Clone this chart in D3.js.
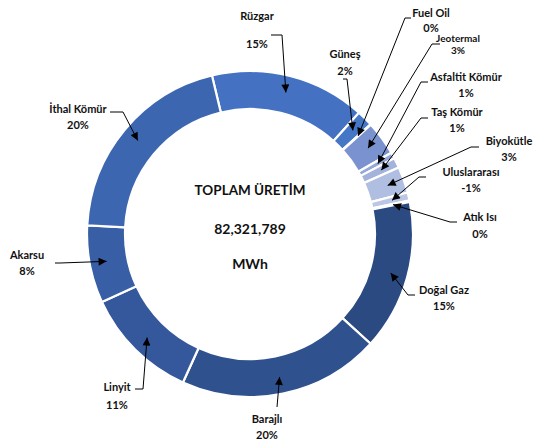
<!DOCTYPE html>
<html>
<head>
<meta charset="utf-8">
<script src="https://cdn.jsdelivr.net/npm/d3@7"></script>
<style>
  html, body { margin: 0; padding: 0; background: #fff; }
  svg { display: block; }
  text { font-family: Lato, "Open Sans", sans-serif; font-weight: 700; fill: #111; }
</style>
</head>
<body>
<svg id="chart" width="545" height="447"></svg>
<script>
// ---- data ----
const categories = ["Rüzgar", "Güneş", "Fuel Oil", "Jeotermal", "Asfaltit Kömür", "Taş Kömür",
  "Biyokütle", "Uluslararası", "Atık Isı", "Doğal Gaz", "Barajlı", "Linyit", "Akarsu", "İthal Kömür"];
const valuesMWh = [12677555, 1317149, 41161, 2798941, 493931, 823218,
  2140367, -658574, 123483, 12265947, 16464358, 9384684, 6338778, 16793643];
const totalTitle = "TOPLAM ÜRETİM";
const totalUnit = "MWh";

// ---- styles / layout (not data) ----
const colors = ["#4471c1", "#4676c6", "#5a84cc", "#7a93d0", "#94a8d8", "#a3b3dc",
  "#b0bee2", "#bcc7e6", "#c8d1ea", "#2b4a82", "#2f528f", "#34589b", "#385ea5", "#3d66b1"];
// label layout: [textX, nameY, pctY, leaderStartX, leaderY, elbowX, fontSize]
const labelLayout = [
  [257, 15, 43, 271, 35, 282, 11],
  [345, 53, 70, 343, 79, 347, 11],
  [431, 12, 27, 411, 18, 405, 11],
  [458, 38, 50, 440, 44, 432, 10],
  [466, 76, 92, 428, 82, 421, 11],
  [457, 111, 127, 428, 118, 421, 11],
  [509, 140, 156, 479, 147, 471, 11],
  [471, 171, 187, 426, 177, 419, 11],
  [480, 216, 233, 457, 222, 450, 11],
  [444, 289, 305, 415, 295, 408, 11],
  [267, 418, 434, 277, 407, 277, 11],
  [117, 386, 404, 135, 389, 143, 11],
  [27, 254, 270, 55, 263, 60, 11],
  [78, 108, 124, 110, 112, 123, 11]
];

const cx = 250, cy = 234, outerR = 163, innerR = 125, tipR = 146;
const startDeg = -13.5;

const svg = d3.select("#chart");
const defs = svg.append("defs");
defs.append("marker").attr("id", "arrow")
  .attr("viewBox", "0 0 10 10").attr("refX", 10).attr("refY", 5)
  .attr("markerWidth", 10).attr("markerHeight", 8).attr("markerUnits", "userSpaceOnUse")
  .attr("orient", "auto")
  .append("path").attr("d", "M0,0 L10,5 L0,10 Z").attr("fill", "#000");

const total = d3.sum(valuesMWh, v => Math.abs(v));
const data = categories.map((c, i) => ({ name: c, value: valuesMWh[i], color: colors[i], layout: labelLayout[i] }));

const start = startDeg * Math.PI / 180;
const pie = d3.pie().sort(null).value(d => Math.abs(d.value))
  .startAngle(start).endAngle(start + 2 * Math.PI);
const arcs = pie(data);

const arc = d3.arc().innerRadius(innerR).outerRadius(outerR);
const tipArc = d3.arc().innerRadius(tipR).outerRadius(tipR);

const g = svg.append("g").attr("transform", `translate(${cx},${cy})`);
g.selectAll("path.slice").data(arcs).enter().append("path")
  .attr("class", "slice")
  .attr("d", arc)
  .attr("fill", d => d.data.color)
  .attr("stroke", "#fff").attr("stroke-width", 2.2).attr("stroke-linejoin", "miter");

// center text
const center = svg.append("g");
center.append("text").attr("x", cx).attr("y", 190).attr("text-anchor", "middle")
  .attr("dominant-baseline", "central").style("font-size", "13.5px").text(totalTitle);
center.append("text").attr("x", cx).attr("y", 228).attr("text-anchor", "middle")
  .attr("dominant-baseline", "central").style("font-size", "14px").text(d3.format(",")(total));
center.append("text").attr("x", cx).attr("y", 263).attr("text-anchor", "middle")
  .attr("dominant-baseline", "central").style("font-size", "14px").text(totalUnit);

// labels with leader arrows
const pctFmt = v => Math.round(v * 100) + "%";
const labels = svg.append("g");
arcs.forEach(a => {
  const [tx, ny, py, lx, ly, ex, fs] = a.data.layout;
  const t = tipArc.centroid(a);
  const tip = [cx + t[0], cy + t[1]];
  labels.append("path")
    .attr("d", d3.line()([[lx, ly], [ex, ly], tip]))
    .attr("fill", "none").attr("stroke", "#000").attr("stroke-width", 1)
    .attr("marker-end", "url(#arrow)");
  labels.append("text").attr("x", tx).attr("y", ny).attr("text-anchor", "middle")
    .attr("dominant-baseline", "central").style("font-size", fs + "px").text(a.data.name);
  labels.append("text").attr("x", tx).attr("y", py).attr("text-anchor", "middle")
    .attr("dominant-baseline", "central").style("font-size", fs + "px")
    .text(pctFmt(a.data.value / total));
});
</script>
</body>
</html>
